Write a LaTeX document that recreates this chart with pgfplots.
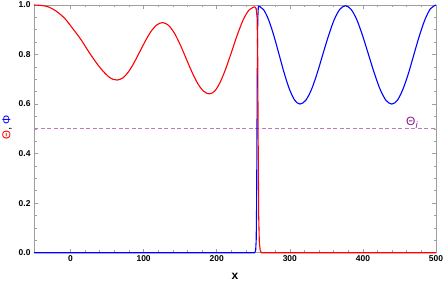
\documentclass[border=0pt]{standalone}
\usepackage{pgfplots}
\pgfplotsset{compat=1.18}
\usepackage{fontspec}
\setmainfont{Liberation Sans}
\definecolor{framegray}{rgb}{0.62,0.62,0.62}
\definecolor{dashpurple}{rgb}{0.74,0.48,0.74}
\definecolor{labpurple}{rgb}{0.55,0.1,0.55}
\begin{document}
\begin{tikzpicture}
\path[use as bounding box] (0,0) rectangle (443bp,283bp);
\begin{axis}[
  at={(34bp,30.3bp)}, anchor=south west,
  scale only axis, width=402bp, height=247.7bp,
  xmin=-50, xmax=500, ymin=0, ymax=1,
  clip=false,
  axis line style={framegray, line width=0.6bp},
  every tick/.style={framegray, line width=0.6bp},
  tick align=inside,
  xtick pos=both, ytick pos=both,
  xticklabel pos=lower, yticklabel pos=left,
  xtick={0,100,200,300,400,500},
  ytick={0,0.2,0.4,0.6,0.8,1.0},
  minor x tick num=4, minor y tick num=3,
  major tick length=4bp, minor tick length=2.5bp,
  /pgf/number format/assume math mode=true,
  yticklabel style={/pgf/number format/fixed, /pgf/number format/fixed zerofill, /pgf/number format/precision=1},
  tick label style={font=\fontsize{8.5}{9}\selectfont\bfseries, text=black},
  xticklabel style={yshift=1bp},
  every axis x label/.style={at={(axis description cs:0.5,0)}, anchor=center, yshift=-23.5bp},
  every axis y label/.style={at={(axis description cs:0,0.5)}, anchor=center, xshift=-27bp, yshift=1.5bp, rotate=90},
  xlabel={\fontsize{12}{12}\selectfont\bfseries x},
  ylabel={\fontsize{11.5}{11.5}\selectfont{\color{red}Θ}, {\color{blue}Φ}},
]
% dashed line Theta_i
\addplot[dashpurple, line width=0.9bp, dash pattern=on 4bp off 2.5bp] coordinates {(-50,0.5) (500,0.5)};
% Phi (blue) flat + rise
\addplot[blue, line width=1.1bp, line join=round] coordinates {
(-50,0) (252,0) (253.3,0.01) (254,0.05) (254.6,0.2) (255.1,0.5) (255.6,0.8) (256.2,0.95) (257,0.996)};
% Phi oscillation
\addplot[blue, line width=1.1bp, smooth] coordinates {
(257,0.996) (264.125,0.981) (271.25,0.938) (278.375,0.874) (285.5,0.798) (292.625,0.722) (299.75,0.658) (306.875,0.615) (314,0.600)
(321.75,0.615) (329.5,0.658) (337.25,0.723) (345,0.799) (352.75,0.874) (360.5,0.939) (368.25,0.982) (376,0.997)
(383.94,0.982) (391.88,0.939) (399.81,0.874) (407.75,0.799) (415.69,0.724) (423.63,0.659) (431.56,0.615) (439.5,0.600)
(447.06,0.615) (454.63,0.659) (462.19,0.723) (469.75,0.800) (477.31,0.876) (484.88,0.941) (492.44,0.985) (500,1.000)};
% Theta (red) oscillation
\addplot[red, line width=1.1bp, smooth] coordinates {
(-50,1.000) (-40,0.998) (-31,0.993) (-20,0.976) (-8,0.946) (3,0.905) (14.6,0.859) (26,0.806) (37.5,0.758) (45,0.731) (52,0.711) (58,0.700) (64,0.697)
(71.75,0.706) (79.5,0.731) (87.25,0.769) (95,0.813) (102.75,0.857) (110.5,0.895) (118.25,0.920) (126,0.929)
(134,0.918) (142,0.887) (150,0.840) (158,0.785) (166,0.730) (174,0.683) (182,0.652) (190,0.641)
(197.75,0.654) (205.5,0.693) (213.25,0.750) (221,0.817) (228.75,0.884) (236.5,0.942) (244.25,0.980) (252,0.993)};
% Theta drop + flat
\addplot[red, line width=1.1bp, line join=round] coordinates {
(252,0.993) (254,0.985) (255.2,0.95) (256,0.82) (256.7,0.45) (257.4,0.15) (258.3,0.04) (259.5,0.01) (261,0) (500,0)};
\node[anchor=base west, inner sep=0pt, text=labpurple, font=\fontsize{12}{12}\selectfont] at (axis cs:459,0.513) {Θ\raisebox{-0.45ex}{\fontsize{9.5}{9.5}\selectfont\itshape i}};
\end{axis}
\end{tikzpicture}
\end{document}
